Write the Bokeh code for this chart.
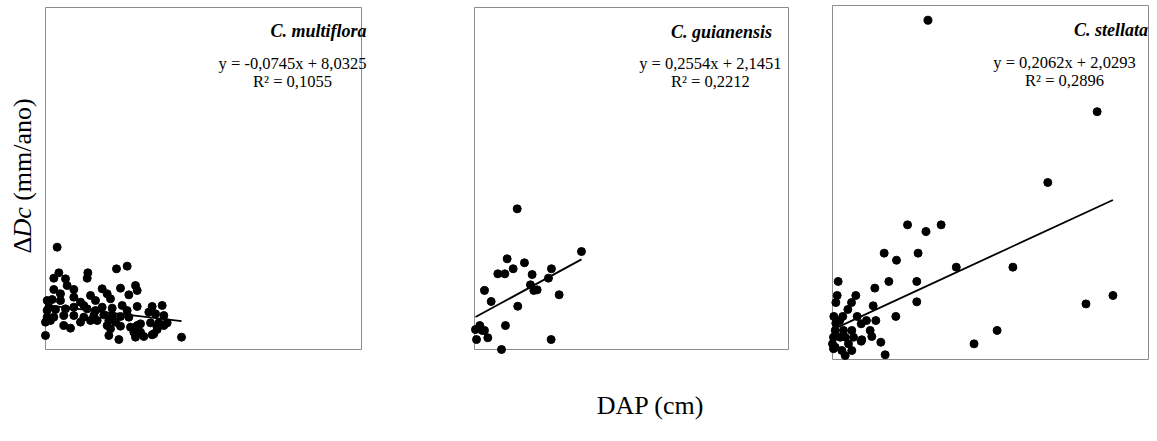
import numpy as np
from bokeh.plotting import figure
from bokeh.layouts import row
from bokeh.models import Label, Range1d, BoxAnnotation
from bokeh.embed import file_html
from bokeh.resources import INLINE

# ---------------- data ----------------
species = ["C. multiflora", "C. guianensis", "C. stellata"]
equations = ["y = -0,0745x + 8,0325", "y = 0,2554x + 2,1451", "y = 0,2062x + 2,0293"]
r2_texts = ["R² = 0,1055", "R² = 0,2212", "R² = 0,2896"]
slopes = [-0.0745, 0.2554, 0.2062]
intercepts = [8.0325, 2.1451, 2.0293]

mult_dap = [3.32, 20.22, 23.26, 3.80, 2.37, 12.06, 11.87, 5.70, 6.17, 8.07, 2.37, 16.14, 21.36,
            25.63, 26.11, 23.74, 12.82, 17.56, 18.51, 8.07, 0.47, 1.90, 4.27, 9.97, 14.24, 10.92,
            21.84, 26.11, 30.38, 33.23, 8.07, 16.14, 0.95, 2.85, 5.70, 11.87, 14.24, 18.99, 23.26,
            29.43, 31.33, 33.70, 0.47, 2.37, 5.22, 8.07, 10.92, 13.77, 16.61, 18.99, 21.36, 23.74,
            1.42, 0.00, 9.97, 12.82, 14.72, 18.04, 19.94, 27.06, 29.91, 32.28, 34.65, 5.22, 7.12,
            17.56, 18.51, 21.36, 24.21, 26.11, 31.80, 33.70, 25.16, 27.06, 30.86, 31.80, 18.04,
            25.63, 28.01, 30.38, 0.00, 20.89, 38.74, 0.47, 4.27]
mult_inc = [18.55, 14.62, 15.11, 13.90, 12.93, 13.90, 12.93, 12.81, 11.60, 10.88, 10.88, 11.00, 11.12,
            11.60, 10.70, 9.91, 9.79, 10.09, 9.19, 9.49, 8.88, 9.06, 8.88, 8.58, 8.88, 7.98,
            7.98, 7.80, 7.80, 7.98, 7.67, 7.67, 7.67, 7.25, 7.37, 7.37, 7.07, 7.49, 7.07,
            6.77, 6.47, 6.16, 5.86, 5.86, 6.16, 6.16, 5.86, 6.16, 6.28, 6.16, 5.98, 5.86,
            5.26, 4.96, 4.96, 5.26, 5.26, 5.26, 4.96, 4.65, 4.83, 4.83, 4.83, 4.35, 3.87,
            4.35, 3.75, 4.23, 4.05, 4.35, 4.05, 4.35, 3.14, 3.14, 2.84, 3.63, 2.54,
            2.24, 2.36, 2.66, 2.54, 1.81, 2.24, 7.07, 10.09]

guia_dap = [6.12, 15.33, 4.68, 7.16, 5.54, 3.34, 4.35, 11.03, 8.26, 10.60, 8.02, 8.50, 8.98,
            1.43, 12.13, 2.39, 6.20, 4.44, 0.76, 0.14, 1.10, 1.43, 0.29, 1.91, 10.98, 3.87]
guia_inc = [9.46, 6.59, 6.10, 5.83, 5.43, 5.09, 5.09, 5.43, 5.04, 4.80, 4.35, 3.97, 4.01,
            3.97, 3.68, 3.23, 2.91, 1.61, 1.61, 1.34, 1.28, 1.28, 0.67, 0.79, 0.67, 0.00]

stel_dap = [14.5, 40.2, 32.7, 11.4, 16.5, 14.2, 7.85, 13.0, 9.72, 18.8, 27.4, 0.86, 8.56, 12.8,
            6.43, 0.71, 3.54, 42.6, 0.51, 2.89, 12.8, 38.5, 6.18, 2.33, 0.20, 1.56, 3.75, 9.62,
            4.36, 5.16, 6.58, 0.50, 1.10, 25.0, 21.5, 0.41, 0.15, 0.00, 0.15, 1.67, 1.17, 1.93,
            2.93, 3.19, 2.43, 4.45, 5.72, 5.97, 7.34, 1.42, 2.93, 1.93, 0.41, 8.00, 4.36]
stel_inc = [23.0, 16.8, 12.0, 9.13, 9.13, 8.68, 7.21, 7.21, 6.73, 6.26, 6.26, 5.29, 5.29, 5.29,
            4.84, 4.34, 4.34, 4.34, 3.86, 3.86, 3.91, 3.77, 3.64, 3.39, 2.92, 2.92, 2.92, 2.92,
            2.42, 2.64, 2.64, 2.46, 2.64, 1.97, 1.06, 1.97, 1.51, 1.06, 0.73, 1.97, 1.51, 1.51,
            1.97, 1.51, 1.06, 1.34, 1.97, 1.56, 1.17, 0.61, 0.61, 0.27, 0.83, 0.32, 1.24]

dap_sets = [mult_dap, guia_dap, stel_dap]
inc_sets = [mult_inc, guia_inc, stel_inc]

# ---------------- layout / style ----------------
FONT = "Liberation Serif"
H = 441
canvas_widths = [420, 380, 357]
x_ranges = [(0, 90), (0, 45), (0, 48)]       # visible box extent of each panel
y_ranges = [(0, 62), (0, 23), (0, 24)]
# pixel position of the box inside each canvas: left, right, top, bottom
box_px = [(45, 361, 7, 349), (54, 368, 7, 349), (32, 348, 5, 359)]
title_pos = [(77.75, 57.65), (35.4, 21.32), (42.3, 22.31)]
eq_pos = [(70.35, 51.85, 48.59), (33.8, 19.23, 18.02), (35.24, 20.14, 18.92)]


def extended_range(lo, hi, p_lo, p_hi, total, flip=False):
    # map data [lo, hi] onto pixel span [p_lo, p_hi] of a canvas of size `total`
    scale = (hi - lo) / (p_hi - p_lo)
    if not flip:
        return lo - p_lo * scale, hi + (total - p_hi) * scale
    # vertical: p_lo is the top pixel (data hi), p_hi the bottom pixel (data lo)
    return lo - (total - p_hi) * scale, hi + p_lo * scale


figs = []
for i in range(3):
    W = canvas_widths[i]
    bl, br, bt, bb = box_px[i]
    xr = extended_range(*x_ranges[i], bl, br, W)
    yr = extended_range(*y_ranges[i], bt, bb, H, flip=True)
    p = figure(width=W, height=H,
               x_range=Range1d(*xr), y_range=Range1d(*yr),
               x_axis_location=None, y_axis_location=None,
               toolbar_location=None, output_backend="svg",
               min_border=0)
    p.grid.visible = False
    p.outline_line_color = None
    p.background_fill_color = "white"
    p.border_fill_color = "white"

    p.add_layout(BoxAnnotation(left=x_ranges[i][0], right=x_ranges[i][1],
                               bottom=y_ranges[i][0], top=y_ranges[i][1],
                               fill_alpha=0, line_color="#8c8c8c", line_alpha=1.0,
                               line_width=1, level="underlay"))

    xs = np.array(dap_sets[i])
    ys = np.array(inc_sets[i])
    xl = np.array([xs.min(), xs.max()])
    p.line(xl, intercepts[i] + slopes[i] * xl, line_color="black", line_width=1.8)
    p.scatter(xs, ys, size=8, fill_color="black", line_color="black")

    tx, ty = title_pos[i]
    p.add_layout(Label(x=tx, y=ty, text=species[i], text_font=FONT, text_font_size="18px",
                       text_font_style="bold italic", text_align="center",
                       text_baseline="middle", text_color="black"))
    ex, ey1, ey2 = eq_pos[i]
    p.add_layout(Label(x=ex, y=ey1, text=equations[i], text_font=FONT, text_font_size="16.5px",
                       text_align="center", text_baseline="middle", text_color="black"))
    p.add_layout(Label(x=ex, y=ey2, text=r2_texts[i], text_font=FONT, text_font_size="16.5px",
                       text_align="center", text_baseline="middle", text_color="black"))
    figs.append(p)

# y-axis title (rotated, with italic "Dc")
p1 = figs[0]
for txt, yy, style in [("Δ", 17.40, "normal"), ("Dc", 20.29, "italic"), ("(mm/ano)", 26.96, "normal")]:
    p1.add_layout(Label(x=-6.55, y=yy, text=txt, angle=np.pi / 2, text_font=FONT,
                        text_font_size="26px", text_font_style=style, text_align="left",
                        text_baseline="middle", text_color="black"))

# x-axis title
figs[1].add_layout(Label(x=25.22, y=-3.77, text="DAP (cm)", text_font=FONT, text_font_size="26px",
                         text_align="center", text_baseline="middle", text_color="black"))

layout = row(*figs, spacing=0)
open("out.html", "w").write(file_html(layout, INLINE))
